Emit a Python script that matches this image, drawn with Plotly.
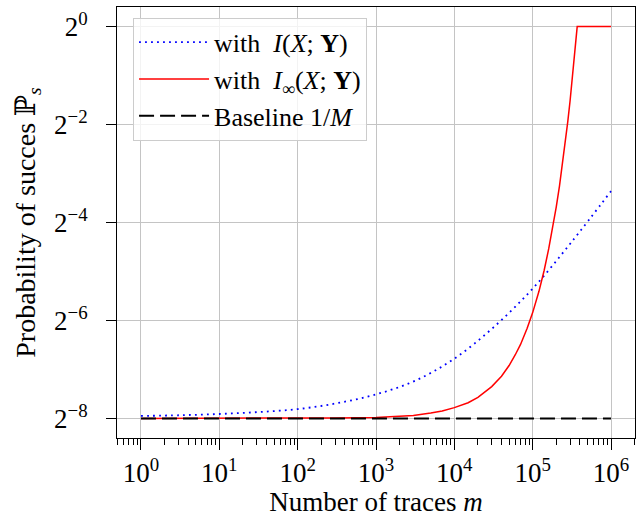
import plotly.graph_objects as go

# ---- data ----
# series 1: with I(X;Y)  (m, log2 P_s)
m_mi = [1, 3.162, 10, 31.62, 100, 316.2, 1000, 3162, 10000, 31623, 100000, 316228, 1000000]
log2p_mi = [-7.95, -7.935, -7.91, -7.87, -7.81, -7.69, -7.51, -7.23, -6.78, -6.14, -5.35, -4.39, -3.36]

# series 2: with I_inf(X;Y)
m_inf = [1, 10, 100, 300, 1000, 2000, 3000, 5000, 7000, 10000, 15000, 20000, 30000, 40000,
         50000, 60000, 70000, 85000, 100000, 120000, 140000, 160000, 180000, 200000, 220000,
         240000, 260000, 280000, 300000, 320000, 340000, 360000, 370000, 1000000]
log2p_inf = [-8.0, -8.0, -8.0, -7.99, -7.98, -7.96, -7.94, -7.89, -7.85, -7.78, -7.68, -7.57,
             -7.35, -7.14, -6.92, -6.70, -6.49, -6.16, -5.84, -5.41, -4.98, -4.54, -4.11,
             -3.68, -3.25, -2.82, -2.38, -1.95, -1.52, -1.09, -0.66, -0.22, 0.0, 0.0]

# series 3: baseline 1/M
m_base = [1, 1000000]
log2p_base = [-8.0, -8.0]

x_tickvals = [1, 10, 100, 1000, 10000, 100000, 1000000]
x_ticktext = ["10<sup>%d</sup>" % i for i in range(7)]
y_tickvals = [2 ** -8, 2 ** -6, 2 ** -4, 2 ** -2, 1]
y_ticktext = ["2<sup>\u22128</sup>", "2<sup>\u22126</sup>", "2<sup>\u22124</sup>",
              "2<sup>\u22122</sup>", "2<sup>0</sup>"]
x_minor = [k * 10 ** e for e in range(-1, 7) for k in range(2, 10)]

FONT = "Liberation Serif, Times New Roman, DejaVu Serif, serif"
FS = 27
NB = "\u00a0"

fig = go.Figure()
fig.add_trace(go.Scatter(
    x=m_mi, y=[2 ** v for v in log2p_mi], mode="lines", line_shape="spline",
    name="with" + NB + " <i>I</i>(<i>X</i>; <b>Y</b>)", legendgroup="a",
    line=dict(color="#0000ff", width=1.8, dash="1.8px,4.2px")))
fig.add_trace(go.Scatter(
    x=m_inf, y=[2 ** v for v in log2p_inf], mode="lines",
    name="with" + NB + " <i>I</i><sub>\u221e</sub>(<i>X</i>; <b>Y</b>)",
    legendgroup="b",
    line=dict(color="#ff0000", width=1.5)))
fig.add_trace(go.Scatter(
    x=m_base, y=[2 ** v for v in log2p_base], mode="lines",
    name="Baseline 1/<i>M</i>", legendgroup="c",
    line=dict(color="black", width=2, dash="15px,6px")))

fig.update_layout(
    width=636, height=517,
    margin=dict(l=117, r=1, t=7, b=79),
    paper_bgcolor="white", plot_bgcolor="white",
    font=dict(family=FONT, size=FS, color="black"),
    showlegend=True,
    legend=dict(x=0.031, y=0.975, xanchor="left", yanchor="top",
                bgcolor="rgba(255,255,255,0.8)", bordercolor="#cccccc", borderwidth=1,
                font=dict(family=FONT, size=26), itemwidth=70, tracegroupgap=0,
                traceorder="normal"),
)
fig.update_xaxes(
    type="log", range=[-0.306, 6.306],
    tickmode="array", tickvals=x_tickvals, ticktext=x_ticktext,
    ticks="outside", ticklen=11, tickwidth=1, tickcolor="black",
    showline=True, linecolor="black", linewidth=1, mirror=True,
    showgrid=True, gridcolor="#c4c4c4", gridwidth=1, zeroline=False,
    minor=dict(tickmode="array", tickvals=x_minor, ticks="outside", ticklen=6,
               tickwidth=1, tickcolor="black", showgrid=False),
    title=dict(text="Number of traces <i>m</i>", standoff=2, font=dict(size=FS)),
    tickfont=dict(size=FS),
    automargin=False,
)
fig.update_yaxes(
    type="log", range=[-8.4 * 0.30103, 0.4 * 0.30103],
    tickmode="array", tickvals=y_tickvals, ticktext=y_ticktext,
    ticks="outside", ticklen=10, tickwidth=1, tickcolor="black",
    showline=True, linecolor="black", linewidth=1, mirror=True,
    showgrid=True, gridcolor="#c4c4c4", gridwidth=1, zeroline=False,
    title=dict(text="Probability of succes \u2119<sub><i>s</i></sub>", standoff=10,
               font=dict(size=28)),
    tickfont=dict(size=FS),
    ticklabelstandoff=13,
    automargin=False,
)

fig.write_html("out.html", config={"displayModeBar": False},
               post_script="document.body.style.margin='0';")
